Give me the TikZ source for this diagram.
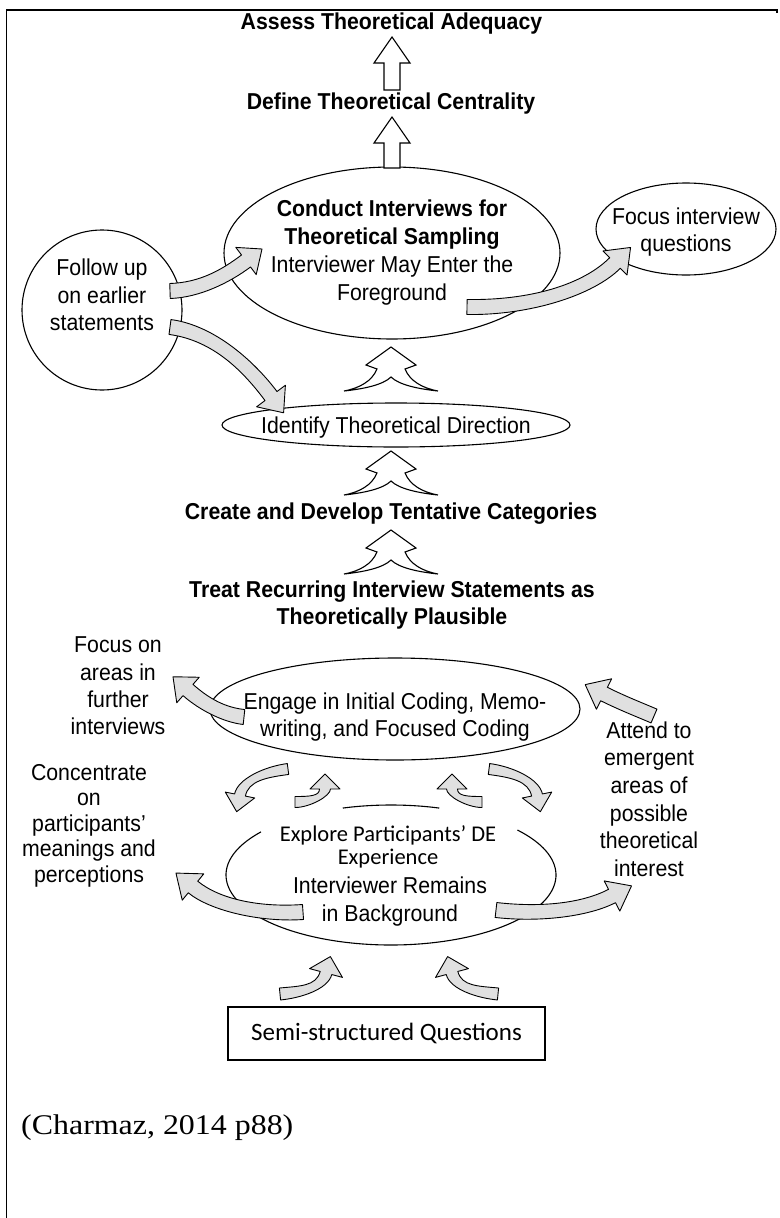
\documentclass[tikz,border=0pt]{standalone}
\usepackage{fontspec}
\setmainfont{Liberation Sans}[FakeStretch=0.925]
\newfontfamily\calibrilike{Carlito}
\newfontfamily\citeserif{Liberation Serif}[FakeStretch=1.12]
\usetikzlibrary{shapes.geometric,calc}

% curved block arrow: tail #1, controls #2 #3, head base #4,
% half band width #5, half head width #6, head length #7
\newcommand{\bandarrow}[7]{%
  \path[band] ($(#1)!#5!90:(#2)$)
    .. controls ($(#2)!#5!-90:(#1)$) and ($(#3)!#5!90:(#4)$) .. ($(#4)!#5!-90:(#3)$)
    -- ($(#4)!#6!-90:(#3)$) -- ($(#4)!#7!180:(#3)$) -- ($(#4)!#6!90:(#3)$)
    -- ($(#4)!#5!90:(#3)$)
    .. controls ($(#3)!#5!-90:(#4)$) and ($(#2)!#5!90:(#1)$) .. ($(#1)!#5!-90:(#2)$)
    -- cycle;}

\tikzset{
  txt/.style={inner sep=0pt, align=center,
    font=\fontsize{23}{#1}\selectfont,
    execute at begin node=\strut, execute at end node=\strut},
  txt/.default=28,
  oval/.style={ellipse, draw, line width=1.1pt, inner sep=0pt},
  band/.style={draw=black, line width=0.9pt, fill=gray!24, line join=round},
  hollow/.style={draw=black, line width=1.1pt, fill=white, line join=miter},
  pics/hollowup/.style={code={
    \path[hollow] (0,0) -- (18,26) -- (8,26) -- (8,#1) -- (-8,#1) -- (-8,26) -- (-18,26) -- cycle;}},
  pics/treearrow/.style={code={
    \path[hollow] (0,0) -- (25,18) -- (14,22)
      .. controls (19,34) and (31,41) .. (47,44)
      .. controls (28,42) and (8,38) .. (0,30)
      .. controls (-8,38) and (-28,42) .. (-47,44)
      .. controls (-31,41) and (-19,34) .. (-14,22)
      -- (-25,18) -- cycle;}}
}

\begin{document}
\begin{tikzpicture}[x=1pt,y=-1pt]
\useasboundingbox (0,0) rectangle (779,1218);

% frame
\draw[line width=1.6pt] (6.5,1218) -- (6.5,10) -- (777,10) -- (777,13);

% ovals
\node[oval, minimum width=336pt, minimum height=172pt] (conduct) at (392,253) {};
\node[oval, minimum width=180pt, minimum height=92pt] (focusq) at (686,229) {};
\node[oval, minimum width=160pt, minimum height=160pt] (follow) at (102,310) {};
\node[oval, minimum width=348pt, minimum height=44pt] (identify) at (396,425) {};
\node[oval, minimum width=370pt, minimum height=102pt] (engage) at (395,709) {};
\node[ellipse, minimum width=330pt, minimum height=140pt, inner sep=0pt] (explore) at (391,875) {};
\draw[line width=1.1pt] ([shift={(253:165 and 70)}]explore.center) arc[start angle=253, end angle=287, x radius=165, y radius=70];
\draw[line width=1.1pt] ([shift={(218:165 and 70)}]explore.center) arc[start angle=218, end angle=-40, x radius=165, y radius=70];

% curved block arrows
\coordinate (g1a) at (170,291); \coordinate (g1b) at (200,290);
\coordinate (g1c) at (226,276); \coordinate (g1d) at (246,261);
\bandarrow{g1a}{g1b}{g1c}{g1d}{7.5pt}{17pt}{20pt}
\coordinate (g2a) at (170,327); \coordinate (g2b) at (215,333);
\coordinate (g2c) at (250,368); \coordinate (g2d) at (271,396);
\bandarrow{g2a}{g2b}{g2c}{g2d}{7.5pt}{18pt}{21pt}
\coordinate (g3a) at (467,307); \coordinate (g3b) at (530,308);
\coordinate (g3c) at (588,290); \coordinate (g3d) at (615,263);
\bandarrow{g3a}{g3b}{g3c}{g3d}{7.5pt}{17pt}{22pt}
\coordinate (g4a) at (244,717); \coordinate (g4b) at (225,715);
\coordinate (g4c) at (205,705); \coordinate (g4d) at (188,690);
\bandarrow{g4a}{g4b}{g4c}{g4d}{7.5pt}{17pt}{20pt}
\coordinate (g5a) at (654,716); \coordinate (g5b) at (640,710);
\coordinate (g5c) at (622,703); \coordinate (g5d) at (604,694);
\bandarrow{g5a}{g5b}{g5c}{g5d}{7.5pt}{17pt}{21pt}
\coordinate (g6a) at (303,912); \coordinate (g6b) at (260,915);
\coordinate (g6c) at (215,905); \coordinate (g6d) at (193,887);
\bandarrow{g6a}{g6b}{g6c}{g6d}{7.5pt}{17pt}{22pt}
\coordinate (g7a) at (496,910); \coordinate (g7b) at (540,915);
\coordinate (g7c) at (585,910); \coordinate (g7d) at (612,896);
\bandarrow{g7a}{g7b}{g7c}{g7d}{7.5pt}{17pt}{22pt}
% small arrows between the two lower ovals
\coordinate (s1a) at (288,769); \coordinate (s1b) at (265,772);
\coordinate (s1c) at (243,780); \coordinate (s1d) at (240,795);
\bandarrow{s1a}{s1b}{s1c}{s1d}{5.5pt}{15pt}{17pt}
\coordinate (s2a) at (295,802); \coordinate (s2b) at (310,802);
\coordinate (s2c) at (325,796); \coordinate (s2d) at (325,789);
\bandarrow{s2a}{s2b}{s2c}{s2d}{5.5pt}{15pt}{15pt}
\coordinate (s3a) at (482,802); \coordinate (s3b) at (467,802);
\coordinate (s3c) at (452,796); \coordinate (s3d) at (452,789);
\bandarrow{s3a}{s3b}{s3c}{s3d}{5.5pt}{15pt}{15pt}
\coordinate (s4a) at (489,769); \coordinate (s4b) at (512,772);
\coordinate (s4c) at (534,780); \coordinate (s4d) at (537,795);
\bandarrow{s4a}{s4b}{s4c}{s4d}{5.5pt}{15pt}{17pt}
% arrows rising from the question box
\coordinate (b1a) at (280,994); \coordinate (b1b) at (300,992);
\coordinate (b1c) at (322,988); \coordinate (b1d) at (326,973);
\bandarrow{b1a}{b1b}{b1c}{b1d}{6pt}{17pt}{17pt}
\coordinate (b2a) at (498,994); \coordinate (b2b) at (478,992);
\coordinate (b2c) at (456,988); \coordinate (b2d) at (452,973);
\bandarrow{b2a}{b2b}{b2c}{b2d}{6pt}{17pt}{17pt}

% hollow arrows up the central column
\pic at (392,37) {hollowup=53};
\pic at (392,117) {hollowup=51};
\pic at (391,347) {treearrow};
\pic at (391,451) {treearrow};
\pic at (391,530) {treearrow};

% labels
\node[txt] (assess) at (391.5,24) {\bfseries Assess Theoretical Adequacy};
\node[txt] (define) at (391,104) {\bfseries Define Theoretical Centrality};
\node[txt=28] (conductT) at (392,254) {{\bfseries Conduct Interviews for}\\{\bfseries Theoretical Sampling}\\Interviewer May Enter the\\Foreground};
\node[txt=27] (focusqT) at (686,234) {Focus interview\\questions};
\node[txt=27.5] (followT) at (102,299) {Follow up\\on earlier\\statements};
\node[txt] (identifyT) at (396,428) {Identify Theoretical Direction};
\node[txt] (create) at (391,514) {\bfseries Create and Develop Tentative Categories};
\node[txt=27] (treat) at (392,607) {\bfseries Treat Recurring Interview Statements as\\\bfseries Theoretically Plausible};
\node[txt=27.3] (focuson) at (118,690) {Focus on\\areas in\\further\\interviews};
\node[txt=27] (engageT) at (395,719) {Engage in Initial Coding, Memo-\\writing, and Focused Coding};
\node[txt=27.6] (attend) at (649,803) {Attend to\\emergent\\areas of\\possible\\theoretical\\interest};
\node[txt=25.5] (concentrate) at (89,827) {Concentrate\\on\\participants’\\meanings and\\perceptions};
\node[inner sep=0pt, align=center, font=\calibrilike\fontsize{22.5}{23}\selectfont,
      execute at begin node=\strut, execute at end node=\strut] (exploreT) at (388,849) {Explore Participants’ DE\\Experience};
\node[txt=28] (remains) at (390,903) {Interviewer Remains\\in Background};

\node[draw, line width=1.2pt, minimum width=317pt, minimum height=53pt, inner sep=0pt,
      font=\calibrilike\fontsize{25}{28}\selectfont] (semi) at (386.5,1033.5) {Semi-structured Questions};
\node[anchor=west, inner sep=0pt, font=\citeserif\fontsize{28.5}{32}\selectfont] (cite) at (21,1128) {(Charmaz, 2014 p88)};
\end{tikzpicture}
\end{document}
